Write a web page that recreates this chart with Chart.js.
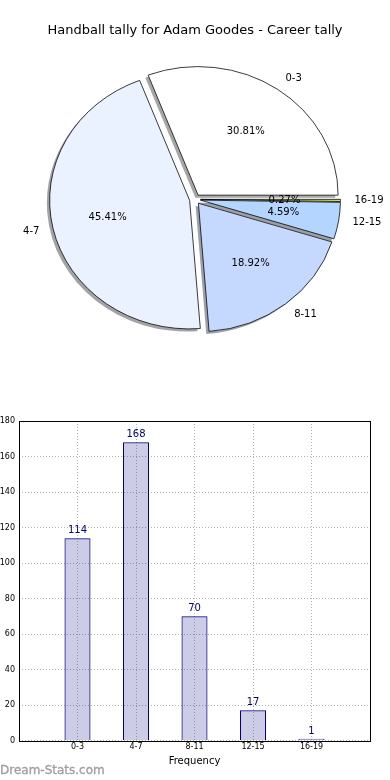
<!DOCTYPE html>
<html><head><meta charset="utf-8">
<script src="https://cdn.jsdelivr.net/npm/chart.js@4/dist/chart.umd.min.js"></script>
<style>
html,body{margin:0;padding:0;background:#fff;width:390px;height:780px;overflow:hidden;}
#pie{position:absolute;left:0;top:0;}
#bar{position:absolute;left:0;top:400px;}
#wm{position:absolute;left:0;top:763px;font:12px "DejaVu Sans",sans-serif;color:#a0a0a0;-webkit-text-stroke:0.35px #a0a0a0;line-height:14px;white-space:nowrap;}
</style></head><body>
<canvas id="pie" width="390" height="360"></canvas>
<canvas id="bar" width="390" height="380"></canvas>
<div id="wm">Dream-Stats.com</div>
<script>
const titleText = 'Handball tally for Adam Goodes - Career tally';
const categories = ['0-3', '4-7', '8-11', '12-15', '16-19'];
const counts = [114, 168, 70, 17, 1];
const sliceColors = ['#ffffff', '#eaf1ff', '#c5d9ff', '#b3d5ff', '#d6e35a'];
const yTicks = [0, 20, 40, 60, 80, 100, 120, 140, 160, 180];
const xAxisTitle = 'Frequency';

const FONT = 'DejaVu Sans';
const total = counts.reduce((a, b) => a + b, 0);

// pie drawn clockwise from east in reversed order = matplotlib counter-clockwise order
const pieLabels = categories.slice().reverse();
const pieValues = counts.slice().reverse();
const pieColors = sliceColors.slice().reverse();

const SY = 0.918;        // vertical squash (matplotlib pie in non-equal axes)
const EXPLODE = 5.5;     // explode distance
const SHADOW = [-2.8, 2.6];

function shadowColor(hex) {
  const n = parseInt(hex.slice(1), 16);
  const r = Math.round(((n >> 16) & 255) * 0.3), g = Math.round(((n >> 8) & 255) * 0.3), b = Math.round((n & 255) * 0.3);
  return `rgba(${r},${g},${b},0.5)`;
}

const pieDraw = {
  id: 'pieDraw',
  beforeDatasetsDraw(chart) {
    const ctx = chart.ctx;
    const arcs = chart.getDatasetMeta(0).data;
    if (!arcs.length) return false;
    const cx = arcs[0].x, cy = arcs[0].y;
    ctx.save();
    ctx.translate(cx, cy); ctx.scale(1, SY); ctx.translate(-cx, -cy);
    arcs.forEach((a, i) => {
      const mid = (a.startAngle + a.endAngle) / 2;
      const ox = Math.cos(mid) * EXPLODE + SHADOW[0];
      const oy = Math.sin(mid) * EXPLODE + SHADOW[1] / SY;
      ctx.beginPath();
      ctx.moveTo(a.x + ox, a.y + oy);
      ctx.arc(a.x + ox, a.y + oy, a.outerRadius, a.startAngle, a.endAngle);
      ctx.closePath();
      ctx.fillStyle = shadowColor(pieColors[i]);
      ctx.fill();
    });
    arcs.forEach(a => {
      const mid = (a.startAngle + a.endAngle) / 2;
      ctx.save();
      ctx.translate(Math.cos(mid) * EXPLODE, Math.sin(mid) * EXPLODE);
      a.draw(ctx);
      ctx.restore();
    });
    ctx.restore();
    return false;
  },
  afterDraw(chart) {
    const ctx = chart.ctx;
    const arcs = chart.getDatasetMeta(0).data;
    ctx.save();
    ctx.fillStyle = '#000';
    ctx.font = `10px "${FONT}"`;
    ctx.textBaseline = 'middle';
    arcs.forEach((a, i) => {
      const mid = (a.startAngle + a.endAngle) / 2;
      const R = a.outerRadius;
      const c = Math.cos(mid), s = Math.sin(mid);
      let d = EXPLODE + 1.1 * R;
      ctx.textAlign = c >= 0 ? 'left' : 'right';
      ctx.fillText(pieLabels[i], a.x + d * c, a.y + SY * d * s);
      d = EXPLODE + 0.6 * R;
      ctx.textAlign = 'center';
      ctx.fillText((pieValues[i] / total * 100).toFixed(2) + '%', a.x + d * c, a.y + SY * d * s);
    });
    ctx.restore();
  }
};

new Chart(document.getElementById('pie'), {
  type: 'pie',
  data: {
    labels: pieLabels,
    datasets: [{
      data: pieValues,
      backgroundColor: pieColors,
      borderColor: '#000',
      borderWidth: 0.8,
      offset: 0,
      hoverOffset: 0
    }]
  },
  options: {
    responsive: false,
    animation: false,
    rotation: 90,
    radius: 140,
    clip: false,
    events: [],
    layout: { padding: { top: 1, bottom: 0 } },
    plugins: {
      legend: { display: false },
      tooltip: { enabled: false },
      title: {
        display: true, text: titleText, color: '#000',
        font: { family: FONT, size: 13, weight: 'normal', lineHeight: 1.2 },
        padding: { top: 22, bottom: 0 }
      }
    }
  },
  plugins: [pieDraw]
});

const frame = {
  id: 'frame',
  afterDraw(chart) {
    const { ctx, chartArea: a } = chart;
    ctx.save();
    ctx.strokeStyle = '#000';
    ctx.lineWidth = 1;
    ctx.strokeRect(Math.round(a.left) + 0.5, Math.round(a.top) + 0.5,
      Math.round(a.right) - Math.round(a.left), Math.round(a.bottom) - Math.round(a.top));
    ctx.restore();
  }
};

const barLabels = {
  id: 'barLabels',
  afterDatasetsDraw(chart) {
    const ctx = chart.ctx;
    const bars = chart.getDatasetMeta(0).data;
    ctx.save();
    ctx.fillStyle = '#000080';
    ctx.font = `10px "${FONT}"`;
    ctx.textAlign = 'center';
    ctx.textBaseline = 'alphabetic';
    bars.forEach((b, i) => ctx.fillText(String(counts[i]), b.x, b.y - 5));
    ctx.restore();
  }
};

new Chart(document.getElementById('bar'), {
  type: 'bar',
  data: {
    datasets: [{
      data: categories.map((c, i) => ({ x: i, y: counts[i] })),
      backgroundColor: 'rgba(0,0,128,0.2)',
      borderColor: '#000080',
      borderWidth: 1,
      barPercentage: 0.445,
      categoryPercentage: 1
    }]
  },
  options: {
    responsive: false,
    animation: false,
    events: [],
    layout: { padding: { top: 21, right: 20, left: 0, bottom: 0 } },
    plugins: { legend: { display: false }, tooltip: { enabled: false } },
    scales: {
      x: {
        type: 'linear', min: -1, max: 5, offset: false,
        afterBuildTicks(s) { s.ticks = categories.map((c, i) => ({ value: i })); },
        afterFit(s) { s.height = 39.5; },
        ticks: {
          callback: (v) => categories[v], autoSkip: false, maxRotation: 0,
          font: { family: FONT, size: 8 }, color: '#000', padding: 2
        },
        grid: { color: '#b4b4b4', lineWidth: 1, drawTicks: false, offset: false },
        border: { display: false, dash: [1, 2] },
        title: {
          display: true, text: xAxisTitle, color: '#000',
          font: { family: FONT, size: 10 }, padding: { top: 0, bottom: 13 }
        }
      },
      y: {
        min: 0, max: 180,
        afterBuildTicks(s) { s.ticks = yTicks.map(v => ({ value: v })); },
        afterFit(s) { s.width = 19; },
        ticks: { font: { family: FONT, size: 8 }, color: '#000', padding: 4 },
        grid: { color: '#b4b4b4', lineWidth: 1, drawTicks: false },
        border: { display: false, dash: [1, 2] }
      }
    }
  },
  plugins: [barLabels, frame]
});
</script>
</body></html>
